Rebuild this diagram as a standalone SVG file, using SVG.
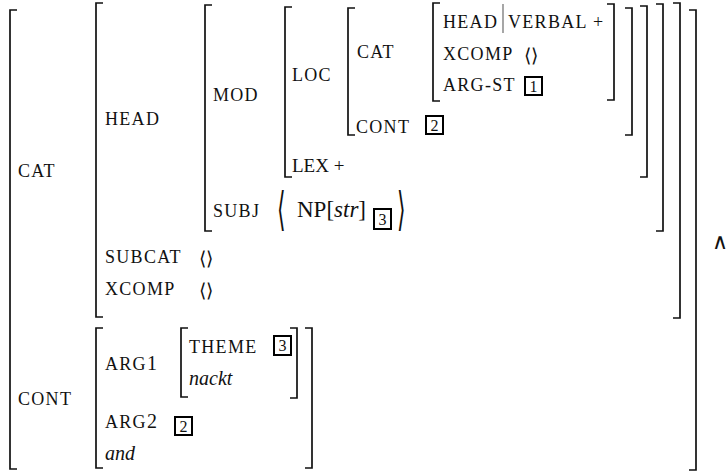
<svg xmlns="http://www.w3.org/2000/svg" width="728" height="473" viewBox="0 0 728 473" font-family="Liberation Serif, serif">
<style>
text{font-family:'Liberation Serif',serif;fill:#111}
.sc{font-size:18px;letter-spacing:1.3px}
.rm{font-size:19px}
.it{font-size:20px;font-style:italic}
.dg{font-size:20px;letter-spacing:0}
.ang{font-family:'DejaVu Sans',sans-serif;font-weight:200;font-size:19px}
.num{font-size:16px}
.br{fill:none;stroke:#111;stroke-width:1.7}
.box{fill:none;stroke:#000;stroke-width:2}
</style>
<rect width="728" height="473" fill="#fff"/>
<g id="brackets" class="br">
  <path d="M17,10 H10 V469 H17"/>
  <path d="M689,10 H696 V470 H689"/>
  <path d="M103,3 H96 V317 H103"/>
  <path d="M673,3 H680 V318 H673"/>
  <path d="M212,5 H205 V231 H212"/>
  <path d="M656,4 H663 V231 H656"/>
  <path d="M292,7 H285 V177 H292"/>
  <path d="M640,6 H647 V177 H640"/>
  <path d="M355,8 H348 V135 H355"/>
  <path d="M625,8 H632 V135 H625"/>
  <path d="M440,3 H433 V101 H440"/>
  <path d="M607,4 H614 V100 H607"/>
  <path d="M103,328 H96 V468 H103"/>
  <path d="M305,328 H312 V468 H305"/>
  <path d="M188,328 H181 V397 H188"/>
  <path d="M290,328 H297 V398 H290"/>
</g>
<g id="outer">
  <text class="sc" x="18" y="177">CAT</text>
  <text class="sc" x="18" y="405">CONT</text>
</g>
<g id="cat-value">
  <text class="sc" x="105" y="125">HEAD</text>
  <text class="sc" x="105" y="263">SUBCAT</text>
  <text class="ang" x="199" y="265">⟨⟩</text>
  <text class="sc" x="105" y="295">XCOMP</text>
  <text class="ang" x="199" y="297">⟨⟩</text>
</g>
<g id="head-value">
  <text class="sc" x="213" y="101">MOD</text>
  <text class="sc" x="213" y="217">SUBJ</text>
  <text class="ang" transform="translate(277,225) scale(0.5,1.05)" style="font-size:44px">⟨</text>
  <text class="rm" x="297" y="217" style="font-size:23px">NP[<tspan font-style="italic">str</tspan>]</text>
  <rect class="box" x="374" y="209" width="17" height="20"/>
  <text class="num" x="382.5" y="225" text-anchor="middle">3</text>
  <text class="ang" transform="translate(397,225) scale(0.5,1.05)" style="font-size:44px">⟩</text>
</g>
<g id="mod-value">
  <text class="sc" x="292" y="81">LOC</text>
  <text class="rm" x="292" y="172">LEX +</text>
</g>
<g id="loc-value">
  <text class="sc" x="357" y="58">CAT</text>
  <text class="sc" x="356" y="133">CONT</text>
  <rect class="box" x="426" y="116" width="17" height="18"/>
  <text class="num" x="434.5" y="131" text-anchor="middle">2</text>
</g>
<g id="cat-inner">
  <text class="sc" x="443" y="28">HEAD</text>
  <line x1="503" y1="4" x2="503" y2="33" stroke="#777" stroke-width="1.3"/>
  <text class="sc" x="508" y="28">VERBAL +</text>
  <text class="sc" x="443" y="60">XCOMP</text>
  <text class="ang" x="524" y="62">⟨⟩</text>
  <text class="sc" x="443" y="91">ARG-ST</text>
  <rect class="box" x="525" y="77" width="17" height="18"/>
  <text class="num" x="533.5" y="92" text-anchor="middle">1</text>
</g>
<g id="cont-value">
  <text class="sc" x="105" y="370">ARG<tspan class="dg">1</tspan></text>
  <text class="sc" x="105" y="428">ARG<tspan class="dg">2</tspan></text>
  <rect class="box" x="175" y="417" width="17" height="18"/>
  <text class="num" x="183.5" y="432" text-anchor="middle">2</text>
  <text class="it" x="105" y="460">and</text>
</g>
<g id="arg1-value">
  <text class="sc" x="189" y="353">THEME</text>
  <rect class="box" x="274" y="336" width="17" height="19"/>
  <text class="num" x="282.5" y="351" text-anchor="middle">3</text>
  <text class="it" x="189" y="385">nackt</text>
</g>
<text x="712" y="249" style="font-family:'DejaVu Sans',sans-serif;font-weight:200;font-size:22px">∧</text>
</svg>
